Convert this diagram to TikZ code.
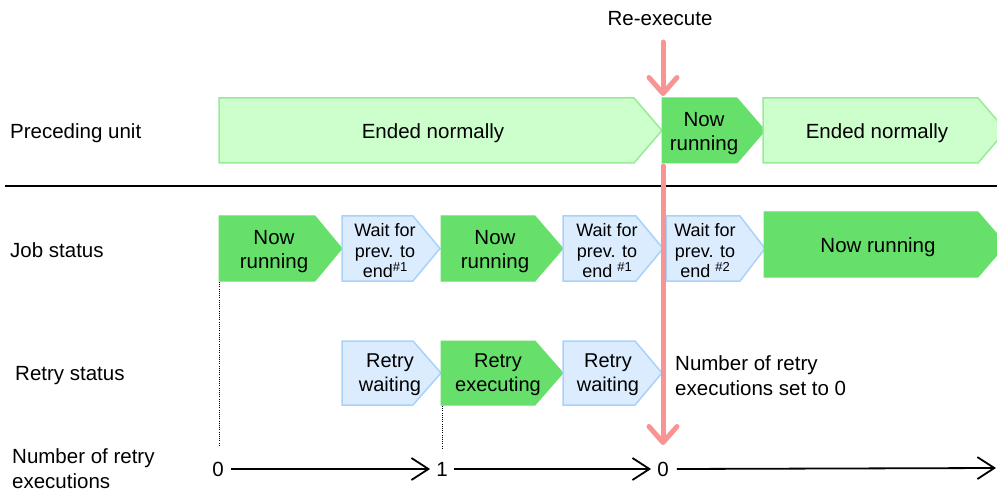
\documentclass[tikz,border=0pt]{standalone}
\usepackage{fontspec}
\setmainfont{Liberation Sans}
\usetikzlibrary{arrows.meta}
\definecolor{lgfill}{RGB}{204,255,204}
\definecolor{lgline}{RGB}{150,236,150}
\definecolor{dgfill}{RGB}{102,224,106}
\definecolor{lbfill}{RGB}{219,236,255}
\definecolor{lbline}{RGB}{168,210,250}
\definecolor{redar}{RGB}{248,148,148}
% #1 style, #2 x left, #3 x flat end, #4 y top, #5 y bottom, #6 tip depth
\newcommand{\arrowbox}[6]{%
  \path[#1] (#2,#4) -- (#3,#4) -- ({#3+#6},{(#4+#5)/2}) -- (#3,#5) -- (#2,#5) -- cycle;}
\newcommand{\supmark}[1]{\raisebox{6.5pt}{\fontsize{13}{13}\selectfont\##1}}
\begin{document}
\begin{tikzpicture}[x=1pt,y=-1pt,
  ended/.style={fill=lgfill, draw=lgline, line width=1.5pt},
  running/.style={fill=dgfill, draw=dgfill, line width=1pt},
  waiting/.style={fill=lbfill, draw=lbline, line width=1.5pt},
  lbl/.style={inner sep=0pt, align=center, yshift=-2.5pt, font=\fontsize{20.5}{24.5}\selectfont},
  leftlbl/.style={inner sep=0pt, align=left, anchor=west, yshift=-1.5pt, font=\fontsize{20.5}{25}\selectfont},
  small/.style={inner sep=0pt, align=center, yshift=-2pt, font=\fontsize{18}{20.5}\selectfont},
  count/.style={inner sep=0pt, yshift=-1pt, font=\fontsize{20.5}{24.5}\selectfont},
  timeline/.style={line width=1.8pt, -{Straight Barb[length=17pt,width=22pt,line width=1.8pt]}},
  rearrow/.style={draw=redar, line width=5pt, line cap=round, -{Straight Barb[length=16pt,width=28pt,round,line width=5pt]}},
  guide/.style={dash pattern=on 1pt off 1.2pt, line width=1pt}
]
\useasboundingbox (0,0) rectangle (997,492);

% row labels
\node[leftlbl] (lpre) at (10,132) {Preceding unit};
\node[leftlbl] (ljob) at (10,249) {Job status};
\node[leftlbl] (lret) at (15,374) {Retry status};
\node[leftlbl] (lnum) at (12,467) {Number of retry\\executions};

% separator
\coordinate (sepl) at (5,186);
\coordinate (sepr) at (997,186);
\draw[line width=1.3pt] (sepl) -- (sepr);

% preceding unit row
\arrowbox{ended}{219}{634}{98}{163}{28}
\arrowbox{running}{662}{737}{98}{163}{28}
\arrowbox{ended}{763}{978}{98}{163}{28}
\node[lbl] (p1) at (433,131) {Ended normally};
\node[lbl] (p2) at (704,131) {Now\\running};
\node[lbl] (p3) at (877,131) {Ended normally};

% job status row
\arrowbox{running}{219}{315}{216}{281}{27}
\arrowbox{waiting}{342}{413}{216}{281}{27}
\arrowbox{running}{441}{535}{216}{281}{28}
\arrowbox{waiting}{563}{636}{216}{281}{27}
\arrowbox{waiting}{666}{740}{216}{281}{25}
\arrowbox{running}{764}{978}{212}{277}{28}
\node[lbl] (j1) at (274,249) {Now\\running};
\node[small] (j2) at (385,249) {Wait for\\prev. to\\end\supmark{1}};
\node[lbl] (j3) at (495,249) {Now\\running};
\node[small] (j4) at (607,249) {Wait for\\prev. to\\end \supmark{1}};
\node[small] (j5) at (705,249) {Wait for\\prev. to\\end \supmark{2}};
\node[lbl] (j6) at (878,245) {Now running};

% retry status row
\arrowbox{waiting}{342}{413}{341}{405}{28}
\arrowbox{running}{441}{535}{341}{405}{28}
\arrowbox{waiting}{563}{635}{341}{405}{27}
\node[lbl, font=\fontsize{20}{24}\selectfont] (r1) at (390,372) {Retry\\waiting};
\node[lbl, font=\fontsize{20}{24}\selectfont] (r2) at (498,372) {Retry\\executing};
\node[lbl, font=\fontsize{20}{24}\selectfont] (r3) at (608,372) {Retry\\waiting};
\node[leftlbl, anchor=west] (setzero) at (675,374) {Number of retry\\executions set to 0};

% counts
\node[count] (c0) at (218,468) {0};
\node[count] (c1) at (442,468) {1};
\node[count] (c2) at (663,468) {0};
\coordinate (cend) at (996,468);
\draw[timeline] ([xshift=7pt]c0.east) -- ([xshift=-6pt]c1.west);
\draw[timeline] ([xshift=6pt]c1.east) -- ([xshift=-6pt]c2.west);
\draw[timeline] ([xshift=8pt]c2.east) -- (cend);

% dotted guides
\coordinate (g1a) at (219,282);
\coordinate (g1b) at (219,445);
\coordinate (g2a) at (442,406);
\coordinate (g2b) at (442,450);
\draw[guide] (g1a) -- (g1b);
\draw[guide] (g2a) -- (g2b);

% re-execute
\node[lbl] (reexec) at (660,16) {Re-execute};
\coordinate (ra) at (663,42);
\coordinate (rb) at (663,96);
\coordinate (rc) at (663,166);
\coordinate (rd) at (663,445);
\draw[rearrow] (ra) -- (rb);
\draw[rearrow] (rc) -- (rd);
\end{tikzpicture}
\end{document}
